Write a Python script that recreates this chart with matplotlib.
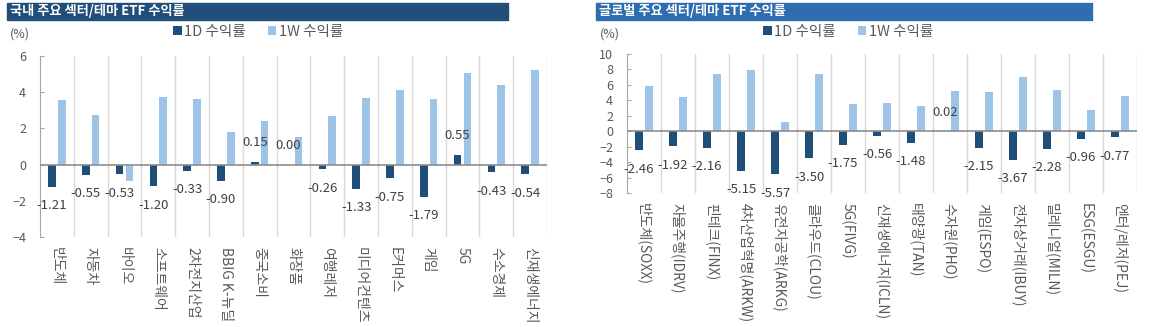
import matplotlib
matplotlib.use('Agg')
import matplotlib.pyplot as plt
from matplotlib.patches import Rectangle
import numpy as np

plt.rcParams['font.family'] = ['Noto Sans CJK KR', 'DejaVu Sans']

# Domestic sector/theme ETF returns
kr_labels = ['반도체', '자동차', '바이오', '소프트웨어', '2차전지산업', 'BBIG K-뉴딜', '중국소비',
             '화장품', '여행레저', '미디어컨텐츠', 'E커머스', '게임', '5G', '수소경제', '신재생에너지']
kr_1d = [-1.21, -0.55, -0.53, -1.20, -0.33, -0.90, 0.15, 0.00, -0.26, -1.33, -0.75, -1.79, 0.55, -0.43, -0.54]
kr_1w = [3.59, 2.76, -0.89, 3.72, 3.63, 1.78, 2.39, 1.55, 2.67, 3.67, 4.10, 3.60, 5.04, 4.40, 5.22]

# Global sector/theme ETF returns
gl_labels = ['반도체(SOXX)', '자율주행(IDRV)', '핀테크(FINX)', '4차산업혁명(ARKW)', '유전자공학(ARKG)',
             '클라우드(CLOU)', '5G(FIVG)', '신재생에너지(ICLN)', '태양광(TAN)', '수자원(PHO)',
             '게임(ESPO)', '전자상거래(IBUY)', '밀레니얼(MILN)', 'ESG(ESGU)', '엔터/레저(PEJ)']
gl_1d = [-2.46, -1.92, -2.16, -5.15, -5.57, -3.50, -1.75, -0.56, -1.48, 0.02, -2.15, -3.67, -2.28, -0.96, -0.77]
gl_1w = [5.83, 4.40, 7.38, 7.99, 1.17, 7.38, 3.55, 3.71, 3.32, 5.18, 5.14, 7.08, 5.40, 2.76, 4.53]

DARK = '#1F4E79'
LIGHT = '#9DC3E6'
W, H = 1161, 327

fig = plt.figure(figsize=(W / 100, H / 100), dpi=100)


def px(x0, y0, x1, y1):
    # pixel box -> figure fraction [left, bottom, width, height]
    return [x0 / W, 1 - y1 / H, (x1 - x0) / W, (y1 - y0) / H]


def panel(box, title, bar_box, title_color, labels, d1, w1, ylim, yticks, legend_x, pct_x):
    ax = fig.add_axes(px(*box))
    x = np.arange(len(labels))
    ax.bar(x - 0.145, d1, width=0.23, color=DARK, label='1D 수익률', zorder=3)
    ax.bar(x + 0.145, w1, width=0.23, color=LIGHT, label='1W 수익률', zorder=3)

    for xi, v in zip(x, d1):
        off = 9 if v >= 0 else -9
        ax.annotate(f'{v:.2f}', (xi - 0.145, v), xytext=(0, off), textcoords='offset points',
                    ha='center', va='bottom' if v >= 0 else 'top', fontsize=9.5, color='#404040')

    ax.set_xlim(-0.5, len(labels) - 0.5)
    ax.set_ylim(*ylim)
    ax.set_yticks(yticks)
    ax.tick_params(axis='y', direction='in', length=3, color='#A6A6A6', labelsize=9,
                   labelcolor='#595959', pad=10)
    ax.set_xticks(x)
    ax.set_xticklabels(labels, rotation=270, fontsize=10, color='#595959', va='top')
    ax.tick_params(axis='x', length=0, pad=7)

    for b in np.arange(0.5, len(labels), 1.0):
        ax.axvline(b, color='#D9D9D9', lw=1, zorder=1)
    ax.axhline(0, color='#8C8C8C', lw=1.2, zorder=4)
    for s in ['top', 'right', 'bottom']:
        ax.spines[s].set_visible(False)
    ax.spines['left'].set_color('#A6A6A6')

    # title bar
    bx0, by0, bx1, by1 = bar_box
    fig.patches.append(Rectangle((bx0 / W, 1 - by1 / H), (bx1 - bx0) / W, (by1 - by0) / H,
                                 transform=fig.transFigure, color=title_color, zorder=0))
    fig.text((bx0 + 3) / W, 1 - (by0 + by1) / 2 / H, title, color='white', fontsize=9.5,
             fontweight='bold', va='center', ha='left')
    fig.text(pct_x / W, 1 - 34 / H, '(%)', fontsize=9, color='#595959', va='center')
    ax.legend(loc='center', bbox_to_anchor=(legend_x / W, 1 - 32 / H), bbox_transform=fig.transFigure,
              ncol=2, frameon=False, fontsize=10.5, handlelength=0.6, handleheight=0.6,
              handletextpad=0.15, columnspacing=1.5, labelcolor='#595959')
    return ax


panel((40, 56, 547, 237), '국내 주요 섹터/테마 ETF 수익률', (7, 3, 508, 20), '#1F4E79',
      kr_labels, kr_1d, kr_1w, (-4, 6), range(-4, 7, 2), 258, 10)
panel((627, 54, 1137, 193), '글로벌 주요 섹터/테마 ETF 수익률', (596, 3, 1092, 20), '#2E6DB0',
      gl_labels, gl_1d, gl_1w, (-8, 10), range(-8, 11, 2), 848, 600)

fig.savefig('out.png', dpi=100)
